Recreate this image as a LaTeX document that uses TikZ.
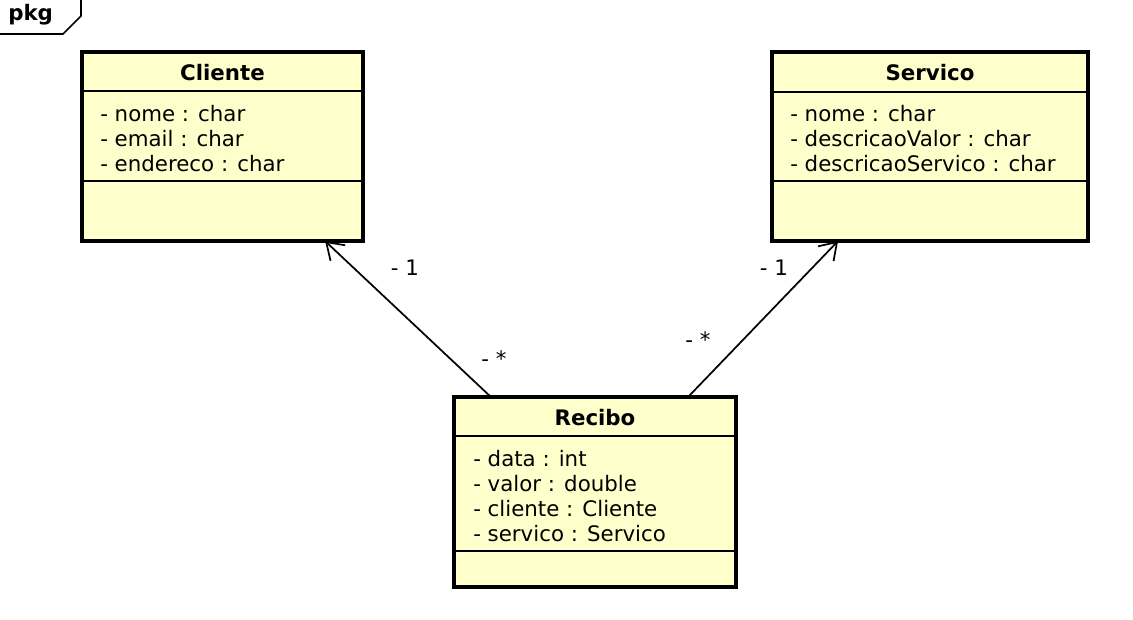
\documentclass[tikz,border=0pt]{standalone}
\usepackage{fontspec}
\setmainfont{DejaVu Sans}
\usetikzlibrary{arrows.meta,calc}
\definecolor{classfill}{HTML}{FFFFCC}
\tikzset{
  classbox/.style={draw, rectangle, line width=2.8pt, fill=classfill,
    minimum height=141.75pt, inner sep=0pt, outer sep=0pt},
  classname/.style={font=\bfseries\fontsize{16}{18}\selectfont},
  attrlist/.style={font=\fontsize{16}{18.75}\selectfont, align=left,
    anchor=north west, inner sep=0pt},
  sepline/.style={line width=1.3pt},
  assoc/.style={line width=1.3pt, -{Straight Barb[length=12pt,width=16pt]}},
  multlabel/.style={font=\fontsize{16}{18}\selectfont, inner sep=0pt}
}
\begin{document}
\begin{tikzpicture}[x=0.75pt,y=-0.75pt]
  \useasboundingbox (0,0) rectangle (1133,619);

  % package tab in the top left corner
  \draw[line width=1.3pt] (0,34) -- (63,34) -- (81,16) -- (81,0);
  \node[classname, anchor=west, inner sep=0pt] (pkg) at (8,15) {pkg};

  % Class boxes
  \node[classbox, minimum width=210.75pt] (cliente) at (222.5,146.5) {};
  \node[classbox, minimum width=237pt] (servico) at (930,146.5) {};
  \node[classbox, minimum width=211.5pt, minimum height=142.5pt] (recibo) at (595,492) {};

  % Compartment dividers
  \draw[sepline] ($(cliente.north west)+(0,39)$) -- ($(cliente.north east)+(0,39)$);
  \draw[sepline] ($(cliente.north west)+(0,129)$) -- ($(cliente.north east)+(0,129)$);
  \draw[sepline] ($(servico.north west)+(0,40)$) -- ($(servico.north east)+(0,40)$);
  \draw[sepline] ($(servico.north west)+(0,129)$) -- ($(servico.north east)+(0,129)$);
  \draw[sepline] ($(recibo.north west)+(0,39)$) -- ($(recibo.north east)+(0,39)$);
  \draw[sepline] ($(recibo.north west)+(0,154)$) -- ($(recibo.north east)+(0,154)$);

  % Class names
  \node[classname] (clientename) at ($(cliente.north)+(0,20.5)$) {Cliente};
  \node[classname] (serviconame) at ($(servico.north)+(0,20.5)$) {Servico};
  \node[classname] (reciboname) at ($(recibo.north)+(0,20.5)$) {Recibo};

  % Attributes
  \node[attrlist] (clienteattr) at ($(cliente.north west)+(18,53)$)
    {- nome : char\\- email : char\\- endereco : char};
  \node[attrlist] (servicoattr) at ($(servico.north west)+(18,53)$)
    {- nome : char\\- descricaoValor : char\\- descricaoServico : char};
  \node[attrlist] (reciboattr) at ($(recibo.north west)+(19,53)$)
    {- data : int\\- valor : double\\- cliente : Cliente\\- servico : Servico};

  % Associations
  \draw[assoc] ($(recibo.north west)!0.131!(recibo.north east)$)
    -- ($(cliente.south west)!0.865!(cliente.south east)$);
  \draw[assoc] ($(recibo.north west)!0.83!(recibo.north east)$)
    -- ($(servico.south west)!0.209!(servico.south east)$);

  % Multiplicities
  \node[multlabel] (clienteone) at (405,268) {- 1};
  \node[multlabel] (clientemany) at (494,359) {- *};
  \node[multlabel] (servicoone) at (774,268) {- 1};
  \node[multlabel] (servicomany) at (698,340) {- *};
\end{tikzpicture}
\end{document}
